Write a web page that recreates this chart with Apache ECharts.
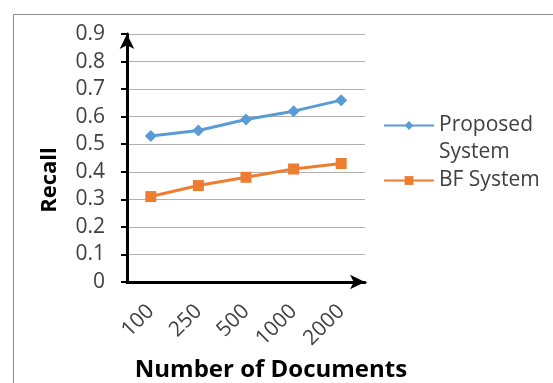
<!DOCTYPE html>
<html>
<head>
<meta charset="utf-8">
<script src="https://cdn.jsdelivr.net/npm/echarts@6/dist/echarts.min.js"></script>
<style>
    html, body { margin: 0; padding: 0; background: #fff; }
    #recallChart { width: 553px; height: 383px; }
</style>
</head>
<body>
<div id="recallChart"></div>
<script>
    // 文档数量（横轴）
    var docCounts = ['100', '250', '500', '1000', '2000'];
    // 召回率
    var proposedRecall = [0.53, 0.55, 0.59, 0.62, 0.66];
    var bfRecall = [0.31, 0.35, 0.38, 0.41, 0.43];

    var font = '"Open Sans", "DejaVu Sans", sans-serif';

    var chart = echarts.init(document.getElementById('recallChart'));
    chart.setOption({
        animation: false,
        backgroundColor: '#fff',
        textStyle: {fontFamily: font},
        graphic: [
            {
                type: 'rect',
                shape: {x: 13.5, y: 14.5, width: 600, height: 400},
                style: {fill: 'none', stroke: '#8c8c8c', lineWidth: 1},
                silent: true
            },
            {
                type: 'text',
                x: 50, y: 180,
                rotation: Math.PI / 2,
                style: {
                    text: 'Recall',
                    font: 'bold 22px ' + font,
                    fill: '#000',
                    align: 'center',
                    verticalAlign: 'middle'
                }
            }
        ],
        grid: {left: 127, right: 188, top: 34, bottom: 101, outerBoundsMode: 'none'},
        legend: {
            orient: 'vertical',
            left: 383,
            top: 85,
            padding: 0,
            itemWidth: 50,
            itemHeight: 11,
            itemGap: 1,
            data: ['Proposed System', 'BF System'],
            // 第一项文字两行：前面加空行，让图标对齐 "Proposed"
            formatter: function (name) {
                return name === 'Proposed System' ? '\nProposed\nSystem' : name;
            },
            textStyle: {
                fontSize: 21,
                color: '#404040',
                lineHeight: 27
            }
        },
        xAxis: {
            type: 'category',
            data: docCounts,
            name: 'Number of Documents',
            nameLocation: 'middle',
            nameGap: 76,
            nameTextStyle: {fontSize: 24, fontWeight: 'bold', color: '#000', padding: [0, 0, 0, 50]},
            axisLine: {
                lineStyle: {color: '#000', width: 3},
                symbol: ['none', 'arrow'],
                symbolSize: [11, 15]
            },
            axisTick: {length: 6, lineStyle: {color: '#000', width: 2}},
            axisLabel: {rotate: 45, margin: 26, fontSize: 21, color: '#404040'},
            splitLine: {show: false}
        },
        yAxis: {
            type: 'value',
            min: 0,
            max: 0.9,
            interval: 0.1,
            axisLine: {
                show: true,
                lineStyle: {color: '#000', width: 3},
                symbol: ['none', 'arrow'],
                symbolSize: [11, 15]
            },
            axisTick: {show: true, length: 6, lineStyle: {color: '#000', width: 2}},
            axisLabel: {
                margin: 22,
                fontSize: 21,
                color: '#404040',
                formatter: function (v) { return v === 0 ? '0' : v.toFixed(1); }
            },
            splitLine: {lineStyle: {color: '#b0b0b0', width: 1}}
        },
        series: [
            {
                name: 'Proposed System',
                type: 'line',
                data: proposedRecall,
                symbol: 'diamond',
                symbolSize: 12,
                itemStyle: {color: '#5B9BD5'},
                lineStyle: {color: '#5B9BD5', width: 3}
            },
            {
                name: 'BF System',
                type: 'line',
                data: bfRecall,
                symbol: 'rect',
                symbolSize: 11,
                itemStyle: {color: '#ED7D31'},
                lineStyle: {color: '#ED7D31', width: 3}
            }
        ]
    });
</script>
</body>
</html>
